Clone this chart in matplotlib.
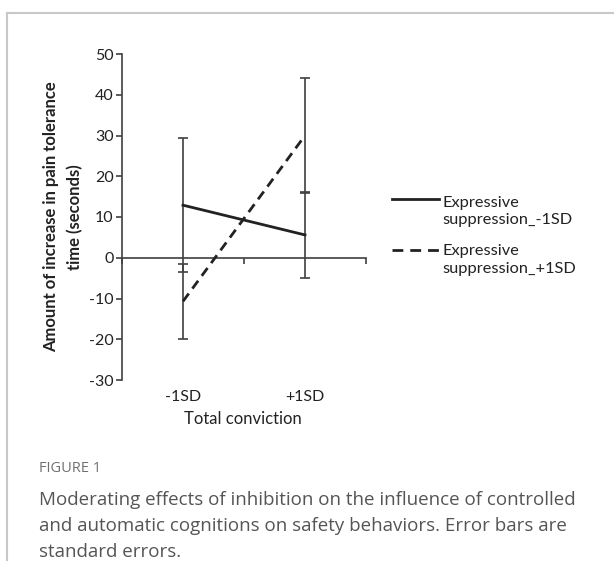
import matplotlib
matplotlib.use("Agg")
import matplotlib.pyplot as plt
from matplotlib.lines import Line2D
from matplotlib.transforms import blended_transform_factory

# data
levels = ["-1SD", "+1SD"]
xpos = [0.5, 1.5]
low_supp = [12.9, 5.6]        # Expressive suppression_-1SD
low_supp_se = [16.5, 10.6]
high_supp = [-10.7, 30.0]     # Expressive suppression_+1SD
high_supp_se = [9.2, 14.2]
yticks = [-30, -20, -10, 0, 10, 20, 30, 40, 50]

plt.rcParams["font.family"] = ["Lato", "DejaVu Sans"]
ink = "#222222"
axis_col = "#404040"
dash = (0, (3.5, 2.2))
legend_dash = (0, (3.9, 2.5))  # three full dashes across the sample, like Excel

W, H = 614, 561


def fx(px):
    return px / W


def fy(py):
    return 1 - py / H


fig = plt.figure(figsize=(W / 100, H / 100), dpi=100)

# page frame lines (top and left)
fig.add_artist(Line2D([fx(7), fx(7)], [0, fy(13)], color="#c8c8c8", lw=1.5))
fig.add_artist(Line2D([fx(7), 1], [fy(13), fy(13)], color="#c8c8c8", lw=1.5))

ax = fig.add_axes([fx(122), fy(380), 244 / W, 326 / H])

ax.errorbar(xpos, low_supp, yerr=low_supp_se, color=ink, lw=2.0,
            ecolor=axis_col, elinewidth=1.2, capsize=3.5, capthick=1.2, zorder=3)
ax.errorbar(xpos, high_supp, yerr=high_supp_se, color=ink, lw=2.0, ls=dash,
            ecolor=axis_col, elinewidth=1.2, capsize=3.5, capthick=1.2, zorder=3)

ax.set_xlim(0, 2)
ax.set_ylim(-30, 50)
ax.set_yticks(yticks)
ax.set_yticklabels([str(v) for v in yticks], fontsize=11.5, color=ink)
ax.set_xticks([0, 1, 2])
ax.set_xticklabels([])
for s in ("top", "right"):
    ax.spines[s].set_visible(False)
ax.spines["bottom"].set_position(("data", 0))
for s in ("left", "bottom"):
    ax.spines[s].set_color(axis_col)
    ax.spines[s].set_linewidth(1.2)
ax.tick_params(axis="both", direction="out", length=4, width=1.2, color=axis_col, pad=2)

# category labels sit below the plot, not at the zero line
cat_tr = blended_transform_factory(ax.transData, fig.transFigure)
for x, lab in zip(xpos, levels):
    ax.text(x, fy(397), lab, transform=cat_tr, ha="center", va="center",
            fontsize=11.5, color=ink)
fig.text(fx(243), fy(419), "Total conviction", ha="center", va="center",
         fontsize=12, color=ink)
ax.set_ylabel("Amount of increase in pain tolerance\ntime (seconds)", fontsize=12,
              fontweight="bold", color=ink, labelpad=4, linespacing=1.6)

# legend drawn Excel-style: sample line level with the first text line
fig.add_artist(Line2D([fx(392), fx(439)], [fy(199)] * 2, color=ink, lw=2.0))
fig.text(fx(442), fy(211.5), "Expressive\nsuppression_-1SD", fontsize=11.8, color=ink,
         ha="left", va="center", linespacing=1.3)
fig.add_artist(Line2D([fx(392), fx(439)], [fy(250)] * 2, color=ink, lw=2.0,
                      ls=legend_dash))
fig.text(fx(442), fy(260), "Expressive\nsuppression_+1SD", fontsize=11.8, color=ink,
         ha="left", va="center", linespacing=1.3)

# caption
fig.text(fx(39), fy(469), "FIGURE 1", fontsize=10.5, color="#707070",
         family=["Open Sans", "DejaVu Sans"], va="center")
fig.text(fx(39), fy(526),
         "Moderating effects of inhibition on the influence of controlled\n"
         "and automatic cognitions on safety behaviors. Error bars are\n"
         "standard errors.",
         fontsize=13.5, color="#555555", family=["Open Sans", "DejaVu Sans"],
         va="center", ha="left", linespacing=1.58)

fig.savefig("out.png", dpi=100)
